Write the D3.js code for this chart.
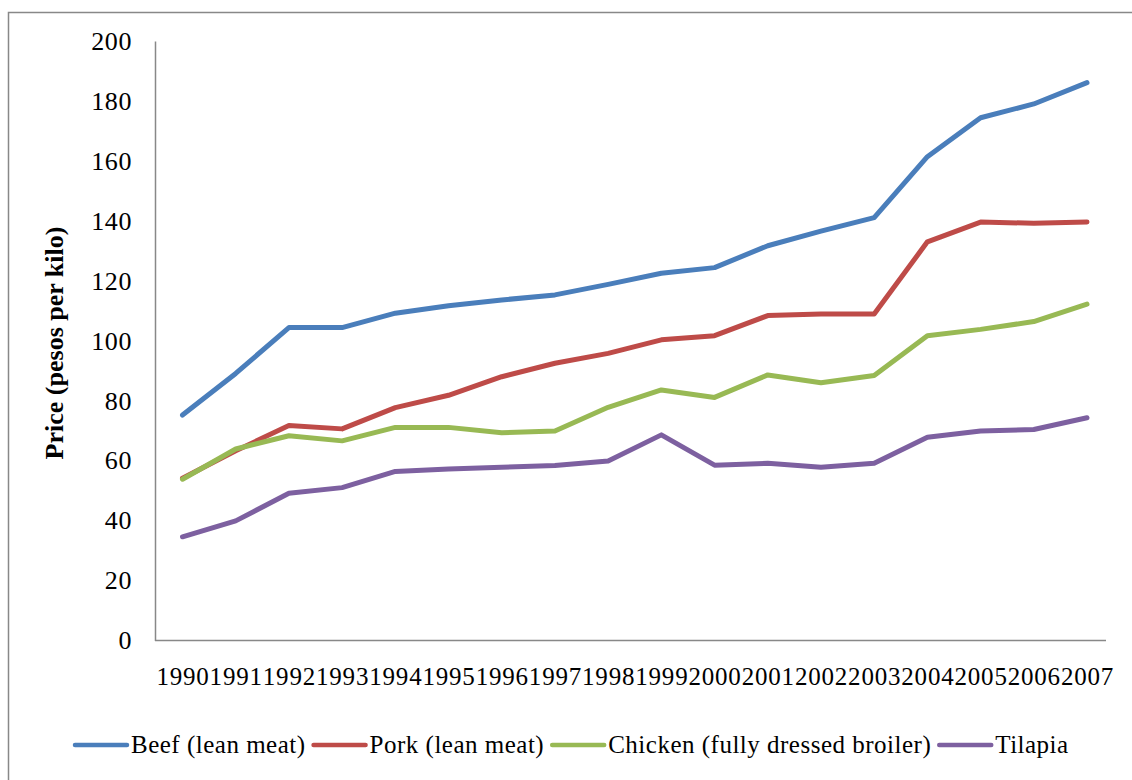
<!DOCTYPE html>
<html>
<head>
<meta charset="utf-8">
<script src="https://cdn.jsdelivr.net/npm/d3@7"></script>
<style>
  html, body { margin: 0; padding: 0; background: #fff; }
  svg { display: block; }
  text { font-family: "Liberation Serif", "Times New Roman", serif; fill: #000; }
</style>
</head>
<body>
<svg id="chart" width="1132" height="780"></svg>
<script>
// Retail prices, pesos per kilo, 1990-2007
const years = ["1990","1991","1992","1993","1994","1995","1996","1997","1998","1999",
               "2000","2001","2002","2003","2004","2005","2006","2007"];
const beef    = [75.2, 89.1, 104.4, 104.4, 109.2, 111.7, 113.6, 115.3, 118.8, 122.5,
                 124.4, 131.7, 136.6, 141.1, 161.4, 174.4, 179.0, 186.1];
const pork    = [54.1, 63.3, 71.7, 70.6, 77.7, 81.8, 88.0, 92.5, 95.8, 100.3,
                 101.7, 108.4, 108.9, 108.9, 133.0, 139.6, 139.2, 139.6];
const chicken = [53.8, 63.9, 68.3, 66.6, 71.1, 71.1, 69.3, 69.9, 77.8, 83.6,
                 81.1, 88.6, 86.0, 88.4, 101.7, 103.8, 106.4, 112.2];
const tilapia = [34.6, 39.9, 49.1, 51.0, 56.4, 57.2, 57.8, 58.4, 59.9, 68.6,
                 58.5, 59.1, 57.8, 59.1, 67.8, 69.9, 70.4, 74.3];
const seriesNames = ["Beef (lean meat)", "Pork (lean meat)",
                     "Chicken (fully dressed broiler)", "Tilapia"];
const seriesColors = ["#4a7ebb", "#be4b48", "#98b954", "#7d60a0"];
const yTicks = [0, 20, 40, 60, 80, 100, 120, 140, 160, 180, 200];
const yTitle = "Price (pesos per kilo)";

const series = [beef, pork, chicken, tilapia].map((vals, i) => ({
  name: seriesNames[i], color: seriesColors[i], values: vals
}));

const svg = d3.select("#chart");

// Chart area frame
svg.append("rect")
  .attr("x", 8.5).attr("y", 12.5)
  .attr("width", 1140).attr("height", 800)
  .attr("fill", "none").attr("stroke", "#888").attr("stroke-width", 1.5);

const plot = { left: 155, right: 1106, top: 41, bottom: 640.5 };

const x = d3.scalePoint().domain(years).range([182.5, 1087]);
const y = d3.scaleLinear().domain([0, 200]).range([plot.bottom, plot.top]);

// Y axis
const yAxis = svg.append("g")
  .attr("transform", `translate(${plot.left},0)`)
  .call(d3.axisLeft(y).tickValues(yTicks).tickSize(0).tickPadding(23));
yAxis.select(".domain").attr("stroke", "#888").attr("stroke-width", 1.5);
yAxis.selectAll(".tick text")
  .style("font-family", "'Liberation Serif', serif")
  .style("font-size", "26px")
  .style("letter-spacing", "0.6px")
  .attr("fill", "#000");

// X axis
const xAxis = svg.append("g")
  .attr("transform", `translate(0,${plot.bottom})`)
  .call(d3.axisBottom(x).tickSize(0).tickPadding(27));
xAxis.select(".domain").remove();
xAxis.append("line")
  .attr("x1", plot.left).attr("x2", plot.right)
  .attr("y1", 0).attr("y2", 0)
  .attr("stroke", "#888").attr("stroke-width", 1.5);
xAxis.selectAll(".tick text")
  .style("font-family", "'Liberation Serif', serif")
  .style("font-size", "25px")
  .style("letter-spacing", "0.8px")
  .attr("fill", "#000");

// Y axis title
svg.append("text")
  .attr("transform", `translate(63,${(224 + 462) / 2}) rotate(-90)`)
  .attr("text-anchor", "middle")
  .style("font-size", "26px")
  .style("font-weight", "bold")
  .text(yTitle);

// Series lines
const line = d3.line()
  .x((d, i) => x(years[i]))
  .y(d => y(d));

svg.append("g").selectAll("path")
  .data(series)
  .join("path")
  .attr("d", d => line(d.values))
  .attr("fill", "none")
  .attr("stroke", d => d.color)
  .attr("stroke-width", 5)
  .attr("stroke-linejoin", "round")
  .attr("stroke-linecap", "round");

// Legend
const legend = svg.append("g").attr("transform", "translate(0,745)");
let cursor = 75;
series.forEach(s => {
  const item = legend.append("g");
  item.append("line")
    .attr("x1", cursor).attr("x2", cursor + 52)
    .attr("y1", 0).attr("y2", 0)
    .attr("stroke", s.color).attr("stroke-width", 4.5)
    .attr("stroke-linecap", "round");
  const t = item.append("text")
    .attr("x", cursor + 56).attr("y", 0)
    .attr("dy", "0.33em")
    .style("font-size", "25px")
    .style("letter-spacing", "0.5px")
    .text(s.name);
  cursor += 56 + t.node().getComputedTextLength() + 8;
});
</script>
</body>
</html>
